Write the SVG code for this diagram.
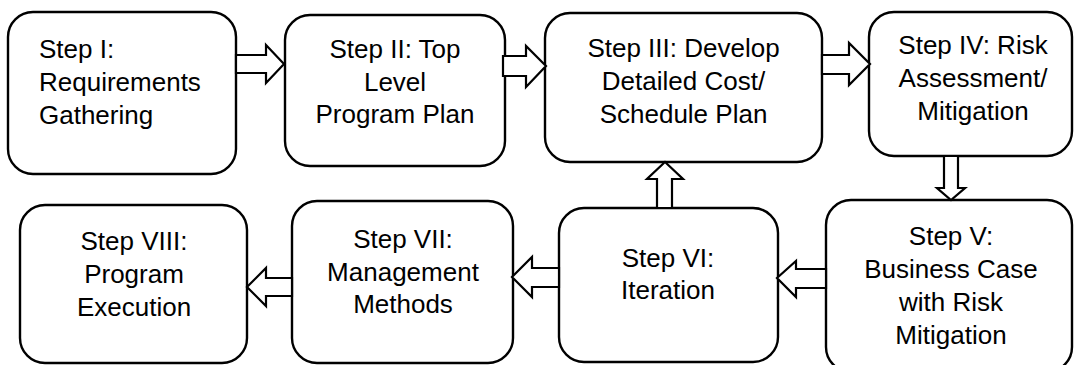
<svg xmlns="http://www.w3.org/2000/svg" width="1074" height="365" viewBox="0 0 1074 365">
<style>
.box{fill:#fff;stroke:#000;stroke-width:2.4}
.arr{fill:#fff;stroke:#000;stroke-width:2.2;stroke-linejoin:miter}
text{font-family:"Liberation Sans",Arial,sans-serif;font-size:26px;fill:#000}
.c{text-anchor:middle}
</style>
<rect width="1074" height="365" fill="#fff"/>
<g id="node-1"><rect class="box" x="8" y="12" width="228" height="162" rx="25"/>
<text x="39" y="57.5">Step I:</text><text x="39" y="90.5">Requirements</text><text x="39" y="123.5">Gathering</text></g>
<g id="node-2"><rect class="box" x="285" y="15" width="220" height="151" rx="25"/>
<text class="c" x="395" y="58">Step II: Top</text><text class="c" x="395" y="91">Level</text><text class="c" x="395" y="123">Program Plan</text></g>
<g id="node-3"><rect class="box" x="545" y="13" width="277" height="149" rx="25"/>
<text class="c" x="683.5" y="57">Step III: Develop</text><text class="c" x="683.5" y="90">Detailed Cost/</text><text class="c" x="683.5" y="123">Schedule Plan</text></g>
<g id="node-4"><rect class="box" x="869" y="12" width="203" height="144" rx="25"/>
<text class="c" x="973" y="54">Step IV: Risk</text><text class="c" x="973" y="87">Assessment/</text><text class="c" x="973" y="120">Mitigation</text></g>
<g id="node-5"><rect class="box" x="826" y="200" width="246" height="172" rx="25"/>
<text class="c" x="951" y="245">Step V:</text><text class="c" x="951" y="278">Business Case</text><text class="c" x="951" y="311">with Risk</text><text class="c" x="951" y="344">Mitigation</text></g>
<g id="node-6"><rect class="box" x="559" y="208" width="219" height="154" rx="25"/>
<text class="c" x="668" y="267">Step VI:</text><text class="c" x="668" y="299">Iteration</text></g>
<g id="node-7"><rect class="box" x="292" y="201" width="221" height="162" rx="25"/>
<text class="c" x="403" y="248">Step VII:</text><text class="c" x="403" y="281">Management</text><text class="c" x="403" y="313">Methods</text></g>
<g id="node-8"><rect class="box" x="20" y="205" width="227" height="158" rx="25"/>
<text class="c" x="134" y="250">Step VIII:</text><text class="c" x="134" y="283">Program</text><text class="c" x="134" y="316">Execution</text></g>
<g id="connectors">
<polygon class="arr" points="236,55 266,55 266,45 284,64 266,83 266,73 236,73"/>
<polygon class="arr" points="503,56 526,56 526,46 546,66 526,87 526,76 503,76"/>
<polygon class="arr" points="822,55 849,55 849,43 870,64 849,85 849,74 822,74"/>
<polygon class="arr" points="944,156 958,156 958,188 965,188 951,200 937,188 944,188"/>
<polygon class="arr" points="657,208 657,179 647,179 665,162 683,179 672,179 672,208"/>
<polygon class="arr" points="826,269 796,269 796,261 777,278 796,297 796,288 826,288"/>
<polygon class="arr" points="559,268 532,268 532,257 512,277 532,297 532,287 559,287"/>
<polygon class="arr" points="292,278 266,278 266,268 247,287 266,306 266,296 292,296"/>
</g>
</svg>
